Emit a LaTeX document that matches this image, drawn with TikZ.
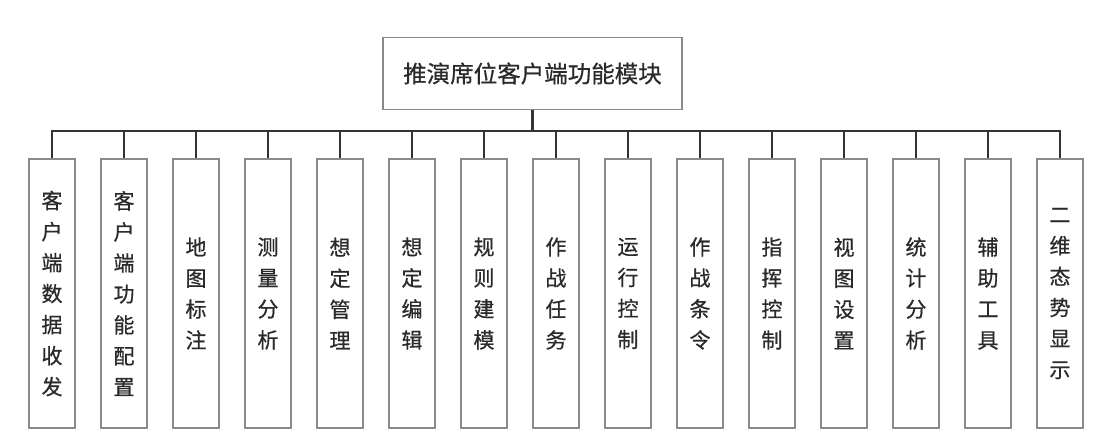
\documentclass[tikz,border=0pt]{standalone}
\usepackage{fontspec}
\newfontfamily\cjk[FakeBold=0.6]{Noto Sans CJK SC}
\definecolor{boxline}{HTML}{8A8A8A}
\definecolor{conn}{HTML}{333333}
\definecolor{txt}{HTML}{2A2A2A}
\begin{document}
\begin{tikzpicture}[x=1pt,y=-1pt,
  topbox/.style={draw=boxline,line width=1.3pt,minimum width=299pt,minimum height=72pt,inner sep=0pt,font=\cjk\fontsize{23.5}{28}\selectfont,text=txt},
  subbox/.style={draw=boxline,line width=1.3pt,minimum width=46pt,minimum height=269pt,inner sep=0pt,font=\cjk\fontsize{21}{31}\selectfont,text=txt,align=center},
  conline/.style={draw=conn,line width=2.2pt}]
\useasboundingbox (0,0) rectangle (1108,436);
\fill[white] (0,0) rectangle (1108,436);
\node[topbox] (top) at (532.5,73.5) {推演席位客户端功能模块};
\coordinate (busL) at (52,131);
\coordinate (busR) at (1060,131);
\coordinate (busM) at (532.5,131);
\foreach \i/\t in {0/{客\\户\\端\\数\\据\\收\\发},1/{客\\户\\端\\功\\能\\配\\置},2/{地\\图\\标\\注},3/{测\\量\\分\\析},4/{想\\定\\管\\理},5/{想\\定\\编\\辑},6/{规\\则\\建\\模},7/{作\\战\\任\\务},8/{运\\行\\控\\制},9/{作\\战\\条\\令},10/{指\\挥\\控\\制},11/{视\\图\\设\\置},12/{统\\计\\分\\析},13/{辅\\助\\工\\具},14/{二\\维\\态\\势\\显\\示}}{
  \node[subbox] (b\i) at ({52+72*\i},293.5) {\t};
  \coordinate (s\i) at ({52+72*\i},131);
  \draw[conline] (s\i) -- (b\i.north);
}
\draw[conline,line cap=rect] (busL) -- (busR);
\draw[conline] (top.south) -- (busM);
\end{tikzpicture}
\end{document}
